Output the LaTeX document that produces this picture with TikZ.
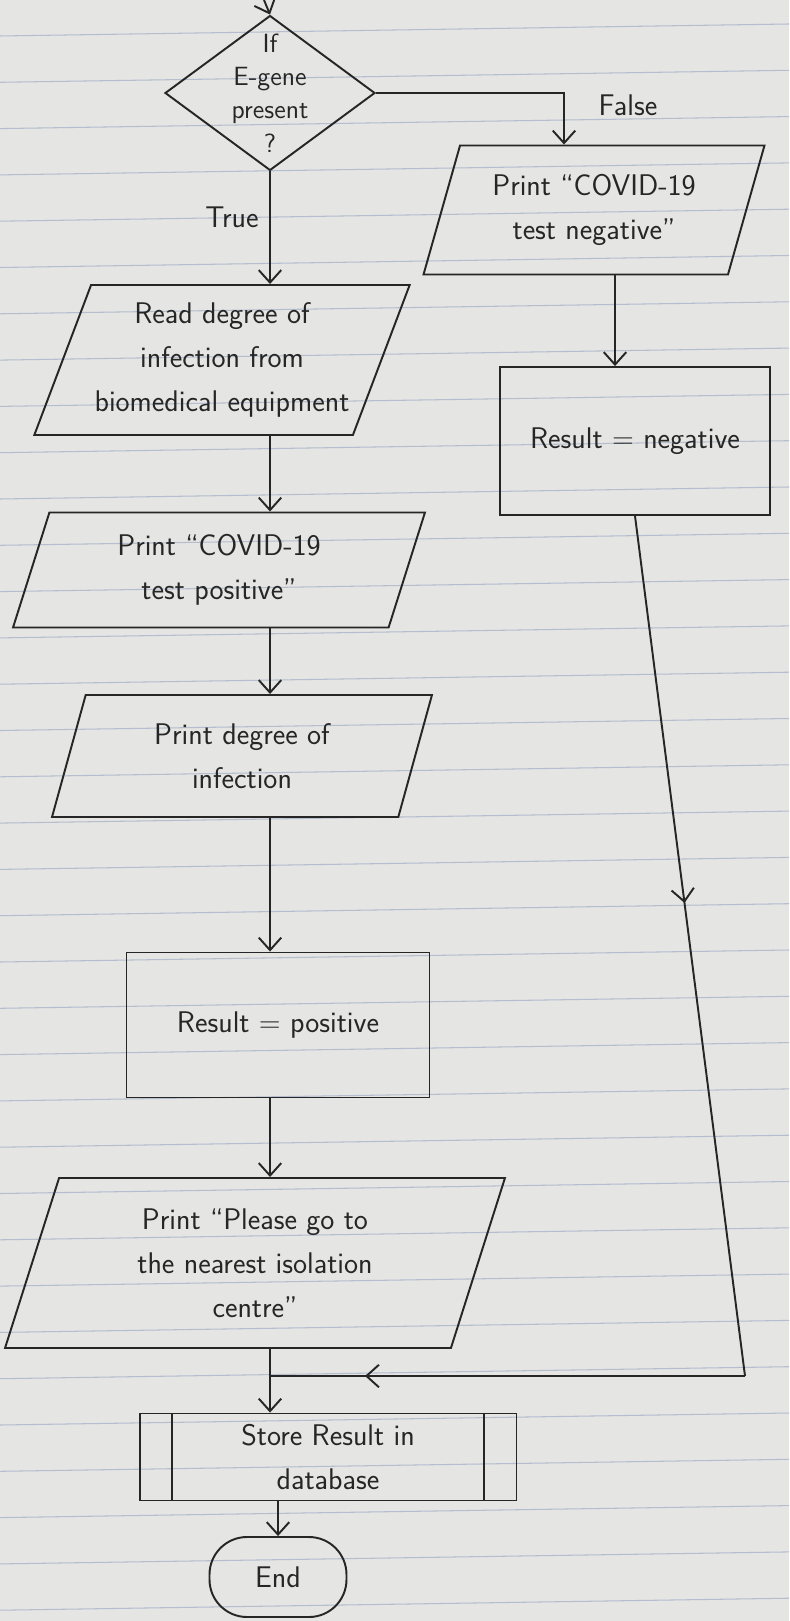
\documentclass[tikz,border=0pt]{standalone}
\usepackage{fontspec}
\usepackage{tikz}
\usetikzlibrary{arrows.meta, shapes.geometric, decorations.markings, calc}
\definecolor{paperGrey}{RGB}{229,229,227}
\definecolor{ruleBlue}{RGB}{180,190,206}
\definecolor{penInk}{RGB}{38,38,38}
\tikzset{
  flow/.style={draw=penInk, line width=1.1pt},
  handtext/.style={font=\sffamily\fontsize{17}{25}\selectfont, text=penInk},
  io/.style={flow, handtext, trapezium, trapezium left angle=65, trapezium right angle=115, trapezium stretches body=true, align=center, inner sep=2pt},
  process/.style={flow, handtext, rectangle, align=center, inner sep=2pt},
  decision/.style={flow, diamond, aspect=1.35, align=center, inner sep=-5pt, font=\sffamily\fontsize{15}{19}\selectfont, text=penInk},
  terminal/.style={flow, handtext, rectangle, rounded corners=0.75cm},
  arrow/.style={draw=penInk, line width=1.1pt, -{Straight Barb[length=2.5mm,width=4.5mm]}},
  midarrow/.style={draw=penInk, line width=1.1pt, postaction={decorate},
    decoration={markings, mark=at position #1 with {\arrow{Straight Barb[length=2.5mm,width=4.5mm]}}}},
  ruled/.style={draw=ruleBlue, line width=0.6pt},
}

\begin{document}
\begin{tikzpicture}[x=0.02cm, y=-0.02cm]
	\fill[paperGrey] (0,0) rectangle (789,1621);
	\useasboundingbox (0,0) rectangle (789,1621);
	% ruled paper
	\foreach \k in {0,...,34}
		\draw[ruled] (0,{36+46.3*\k}) -- (789,{24+46.3*\k});

	\coordinate (start) at (264,0);
	\node[decision, minimum width=4.2cm, minimum height=3.1cm] (cond) at (270,93) {If\\E-gene\\present\\?};

	% false branch
	\node[io, minimum width=6.82cm, minimum height=2.58cm] (neg) at (594,210) {Print ``COVID-19\\test negative''};
	\node[process, minimum width=5.4cm, minimum height=2.96cm] (negres) at (635,441) {Result = negative};

	% true branch
	\node[io, minimum width=7.26cm, minimum height=3cm] (read) at (222,360) {Read degree of\\infection from\\biomedical equipment};
	\node[io, minimum width=8.24cm, minimum height=2.3cm] (pos) at (219,570) {Print ``COVID-19\\test positive''};
	\node[io, minimum width=7.6cm, minimum height=2.44cm] (deg) at (242,756) {Print degree of\\infection};
	\node[process, minimum width=6.06cm, minimum height=2.9cm] (posres) at (278,1025) {Result = positive};
	\node[io, minimum width=10cm, minimum height=3.4cm] (please) at (255,1263) {Print ``Please go to\\the nearest isolation\\centre''};

	\node[process, minimum width=7.54cm, minimum height=1.74cm] (store) at (328,1457) {Store Result in\\database};
	\draw[flow] ([xshift=0.66cm]store.north west) -- ([xshift=0.66cm]store.south west);
	\draw[flow] ([xshift=-0.66cm]store.north east) -- ([xshift=-0.66cm]store.south east);
	\node[terminal, minimum width=2.74cm, minimum height=1.6cm] (end) at (278,1577) {End};

	\node[handtext] (truetxt) at (232,217) {True};
	\node[handtext] (falsetxt) at (628,105) {False};

	% connectors
	\coordinate (negtop) at ([xshift=-0.6cm]neg.north);
	\coordinate (negin) at ([xshift=-0.4cm]negres.north);
	\coordinate (bend) at (745,1376);
	\coordinate (join) at (cond.south |- bend);

	\draw[arrow] (start) -- (cond.north);
	\draw[arrow] (cond.east) -| (negtop);
	\draw[arrow] (negin |- neg.south) -- (negin);
	\draw[arrow] (cond.south) -- (cond.south |- read.north);
	\draw[arrow] (cond.south |- read.south) -- (cond.south |- pos.north);
	\draw[arrow] (cond.south |- pos.south) -- (cond.south |- deg.north);
	\draw[arrow] (cond.south |- deg.south) -- (cond.south |- posres.north);
	\draw[arrow] (cond.south |- posres.south) -- (cond.south |- please.north);
	\draw[arrow] (cond.south |- please.south) -- (cond.south |- store.north);
	\draw[midarrow=0.45] (negres.south) -- (bend);
	\draw[midarrow=0.8] (bend) -- (join);
	\draw[arrow] (end.north |- store.south) -- (end.north);

\end{tikzpicture}
\end{document}
